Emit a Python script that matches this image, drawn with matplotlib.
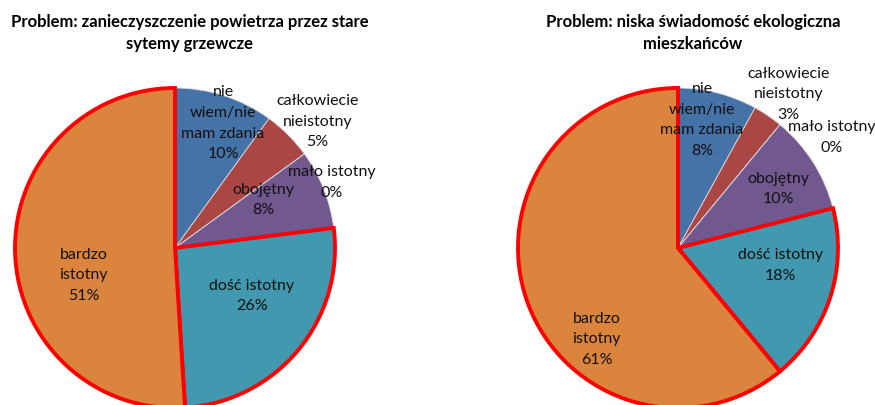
import matplotlib
matplotlib.use("Agg")
import matplotlib.pyplot as plt

plt.rcParams['font.family'] = ['Lato', 'DejaVu Sans']

# data
categories = ['nie\nwiem/nie\nmam zdania', 'całkowiecie\nnieistotny', 'mało istotny',
              'obojętny', 'dość istotny', 'bardzo\nistotny']
values_left = [10, 5, 0, 8, 26, 51]
values_right = [8, 3, 0, 10, 18, 61]
title_left = 'Problem: zanieczyszczenie powietrza przez stare\nsytemy grzewcze'
title_right = 'Problem: niska świadomość ekologiczna\nmieszkańców'

colors = ['#4572A7', '#AA4643', '#89A54E', '#71588F', '#4198AF', '#DB843D']
red_edge = [False, False, False, False, True, True]

# label offsets in radius units
lab_left = [(0.30, 0.78), (0.89, 0.79), (0.98, 0.41), (0.55, 0.30), (0.48, -0.30), (-0.57, -0.17)]
lab_right = [(0.15, 0.80), (0.69, 0.96), (0.96, 0.69), (0.63, 0.37), (0.64, -0.11), (-0.51, -0.57)]

fig = plt.figure(figsize=(8.75, 4.05), dpi=100)
ax = fig.add_axes([0, 0, 1, 1])

R = 160


def draw(vals, cx, cy, labs, title, tx):
    wedges, _ = ax.pie(vals, colors=colors, startangle=90, counterclock=False,
                       radius=R, center=(cx, cy), normalize=True,
                       wedgeprops=dict(linewidth=0.6, edgecolor='#dddddd'))
    for w, red in zip(wedges, red_edge):
        if red:
            w.set_edgecolor('#ff0000')
            w.set_linewidth(2.8)
            w.set_zorder(3)
    for name, v, (dx, dy) in zip(categories, vals, labs):
        ax.text(cx + dx * R, cy + dy * R, '%s\n%d%%' % (name, v), ha='center', va='center',
                fontsize=11.5, linespacing=1.6, color='#111111', zorder=5)
    ax.text(tx, 405 - 33, title, ha='center', va='center', fontsize=12,
            fontweight='bold', linespacing=1.5)


draw(values_left, 175, 405 - 248, lab_left, title_left, 190)
draw(values_right, 678, 405 - 248, lab_right, title_right, 693)

ax.set_xlim(0, 875)
ax.set_ylim(0, 405)
ax.set_aspect('auto')
ax.axis('off')

fig.savefig('out.png', dpi=100)
